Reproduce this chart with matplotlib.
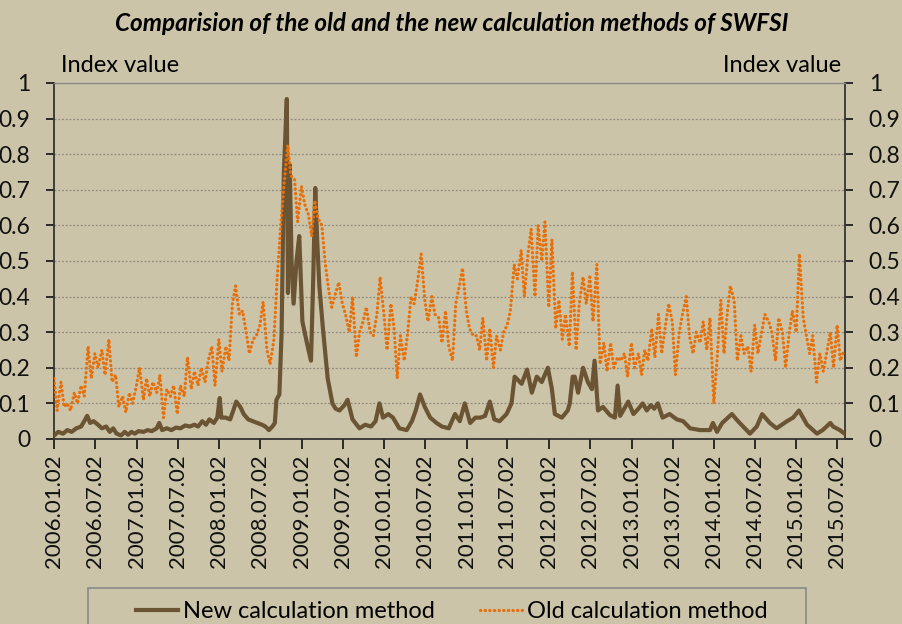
import matplotlib
matplotlib.use("Agg")
import matplotlib.pyplot as plt
import matplotlib.dates as mdates
from matplotlib.patches import Rectangle
import pandas as pd

# new calculation method (irregular dates)
new_dates = [
    "2006-01-02", "2006-01-20", "2006-02-10", "2006-03-01", "2006-03-20", "2006-04-10",
    "2006-05-01", "2006-05-15", "2006-05-28", "2006-06-10", "2006-06-25", "2006-07-15",
    "2006-08-01", "2006-08-20", "2006-09-05", "2006-09-20", "2006-10-05", "2006-10-25",
    "2006-11-10", "2006-11-25", "2006-12-10", "2006-12-25",
    "2007-01-10", "2007-02-01", "2007-02-20", "2007-03-10", "2007-04-01", "2007-04-12",
    "2007-04-25", "2007-05-15", "2007-06-05", "2007-06-25", "2007-07-15", "2007-08-05",
    "2007-08-25", "2007-09-15", "2007-10-01", "2007-10-20", "2007-11-05", "2007-11-20",
    "2007-12-10", "2007-12-25",
    "2008-01-05", "2008-01-12", "2008-02-01", "2008-02-20", "2008-03-05", "2008-03-18",
    "2008-04-05", "2008-04-20", "2008-05-10", "2008-05-30", "2008-06-20", "2008-07-10",
    "2008-07-25", "2008-08-10", "2008-08-25", "2008-09-05", "2008-09-12", "2008-09-25",
    "2008-10-05", "2008-10-15", "2008-10-28", "2008-11-02", "2008-11-10", "2008-11-18",
    "2008-11-27", "2008-12-10", "2008-12-22",
    "2009-01-05", "2009-01-25", "2009-02-12", "2009-02-22", "2009-03-03", "2009-03-12",
    "2009-03-21", "2009-04-06", "2009-04-27", "2009-05-18", "2009-06-01", "2009-06-18",
    "2009-07-10", "2009-07-24", "2009-08-15", "2009-09-15", "2009-10-10", "2009-11-05",
    "2009-11-25", "2009-12-12", "2009-12-28",
    "2010-01-20", "2010-02-10", "2010-03-10", "2010-04-12", "2010-05-05", "2010-05-22",
    "2010-06-10", "2010-07-01", "2010-07-25", "2010-08-22", "2010-09-15", "2010-10-15",
    "2010-11-12", "2010-12-03", "2010-12-25",
    "2011-01-18", "2011-02-10", "2011-03-05", "2011-03-25", "2011-04-15", "2011-05-05",
    "2011-05-28", "2011-06-28", "2011-07-20", "2011-08-03", "2011-09-03", "2011-09-27",
    "2011-10-18", "2011-11-09", "2011-12-01", "2011-12-28",
    "2012-01-15", "2012-01-28", "2012-02-28", "2012-03-25", "2012-04-03", "2012-04-16",
    "2012-04-25", "2012-05-10", "2012-06-01", "2012-06-22", "2012-07-10", "2012-07-22",
    "2012-08-06", "2012-08-28", "2012-09-28", "2012-10-20", "2012-11-01", "2012-11-12",
    "2012-12-18",
    "2013-01-10", "2013-02-01", "2013-02-20", "2013-03-10", "2013-03-28", "2013-04-12",
    "2013-04-28", "2013-05-19", "2013-06-19", "2013-07-21", "2013-08-18", "2013-09-18",
    "2013-11-01", "2013-12-15", "2013-12-28",
    "2014-01-15", "2014-02-07", "2014-03-22", "2014-04-18", "2014-06-10", "2014-07-10",
    "2014-08-03", "2014-09-06", "2014-10-06", "2014-11-21", "2014-12-18",
    "2015-01-13", "2015-02-18", "2015-04-03", "2015-04-28", "2015-06-01", "2015-06-13",
    "2015-07-13", "2015-08-03",
]
new_vals = [
    0.010, 0.020, 0.015, 0.025, 0.020, 0.030,
    0.035, 0.050, 0.065, 0.045, 0.050, 0.040,
    0.030, 0.035, 0.020, 0.030, 0.015, 0.010,
    0.020, 0.012, 0.020, 0.015,
    0.022, 0.020, 0.025, 0.022, 0.030, 0.045,
    0.025, 0.030, 0.025, 0.032, 0.030, 0.038,
    0.035, 0.040, 0.035, 0.050, 0.040, 0.055,
    0.045, 0.060,
    0.115, 0.060, 0.060, 0.055, 0.080, 0.105,
    0.090, 0.070, 0.055, 0.050, 0.045, 0.040,
    0.035, 0.025, 0.035, 0.045, 0.110, 0.125,
    0.300, 0.750, 0.955, 0.410, 0.770, 0.500,
    0.380, 0.500, 0.570,
    0.330, 0.270, 0.220, 0.450, 0.705, 0.550,
    0.430, 0.310, 0.170, 0.100, 0.085, 0.080,
    0.095, 0.110, 0.055, 0.030, 0.040, 0.035,
    0.050, 0.100, 0.060,
    0.070, 0.060, 0.030, 0.025, 0.050, 0.080,
    0.125, 0.090, 0.060, 0.045, 0.035, 0.030,
    0.070, 0.050, 0.100,
    0.045, 0.060, 0.060, 0.065, 0.105, 0.055,
    0.050, 0.070, 0.100, 0.175, 0.155, 0.195,
    0.130, 0.175, 0.160, 0.200,
    0.140, 0.070, 0.060, 0.080, 0.100, 0.175,
    0.175, 0.130, 0.200, 0.160, 0.140, 0.220,
    0.080, 0.090, 0.067, 0.060, 0.150, 0.065,
    0.105,
    0.070, 0.085, 0.100, 0.080, 0.095, 0.085,
    0.100, 0.060, 0.070, 0.055, 0.050, 0.030,
    0.025, 0.025, 0.045,
    0.020, 0.045, 0.070, 0.050, 0.015, 0.035,
    0.070, 0.045, 0.030, 0.050, 0.060,
    0.080, 0.040, 0.015, 0.025, 0.045, 0.035,
    0.025, 0.015,
]

# old calculation method, semi-monthly (1st and 15th of each month)
old_2006 = [0.17, 0.08, 0.16, 0.09, 0.10, 0.08, 0.13, 0.10, 0.15, 0.12, 0.26, 0.17,
            0.24, 0.20, 0.25, 0.18, 0.28, 0.16, 0.18, 0.09, 0.12, 0.075, 0.13, 0.10]
old_2007 = [0.15, 0.20, 0.11, 0.17, 0.12, 0.16, 0.13, 0.18, 0.06, 0.14, 0.12, 0.15,
            0.07, 0.15, 0.12, 0.23, 0.14, 0.19, 0.15, 0.20, 0.16, 0.22, 0.26, 0.15]
old_2008 = [0.28, 0.19, 0.26, 0.22, 0.38, 0.43, 0.35, 0.36, 0.30, 0.24, 0.28, 0.29,
            0.32, 0.385, 0.25, 0.21, 0.28, 0.45, 0.60, 0.71, 0.825, 0.74, 0.73, 0.61]
old_2009 = [0.71, 0.66, 0.63, 0.57, 0.67, 0.62, 0.60, 0.50, 0.42, 0.37, 0.41, 0.44,
            0.38, 0.35, 0.30, 0.40, 0.23, 0.30, 0.33, 0.37, 0.30, 0.29, 0.35, 0.455]
old_2010 = [0.35, 0.25, 0.38, 0.31, 0.17, 0.29, 0.22, 0.29, 0.40, 0.38, 0.45, 0.52,
            0.39, 0.33, 0.40, 0.35, 0.34, 0.27, 0.36, 0.26, 0.22, 0.38, 0.43, 0.48]
old_2011 = [0.36, 0.31, 0.29, 0.29, 0.25, 0.34, 0.22, 0.31, 0.20, 0.29, 0.25, 0.30,
            0.32, 0.36, 0.49, 0.45, 0.53, 0.40, 0.52, 0.59, 0.40, 0.60, 0.50, 0.61]
old_2012 = [0.37, 0.56, 0.31, 0.39, 0.28, 0.35, 0.26, 0.47, 0.25, 0.38, 0.455, 0.38,
            0.455, 0.33, 0.49, 0.21, 0.27, 0.19, 0.27, 0.20, 0.23, 0.22, 0.24, 0.175]
old_2013 = [0.27, 0.20, 0.24, 0.18, 0.25, 0.22, 0.31, 0.23, 0.35, 0.24, 0.32, 0.38,
            0.33, 0.18, 0.30, 0.35, 0.40, 0.29, 0.24, 0.30, 0.27, 0.33, 0.25, 0.34]
old_2014 = [0.10, 0.22, 0.39, 0.24, 0.35, 0.43, 0.39, 0.22, 0.29, 0.24, 0.26, 0.19,
            0.32, 0.24, 0.30, 0.35, 0.33, 0.30, 0.22, 0.34, 0.30, 0.20, 0.30, 0.36]
old_2015 = [0.30, 0.52, 0.34, 0.29, 0.24, 0.29, 0.16, 0.24, 0.19, 0.24, 0.30, 0.20,
            0.32, 0.22, 0.25]

old_vals = (old_2006 + old_2007 + old_2008 + old_2009 + old_2010 + old_2011
            + old_2012 + old_2013 + old_2014 + old_2015)
old_dates = pd.date_range("2006-01-01", periods=len(old_vals), freq="SMS")

tick_dates = pd.date_range("2006-01-01", "2015-07-01", freq="6MS") + pd.Timedelta(days=1)

bg = "#CCC4A8"
brown = "#6B5434"
orange = "#E8700A"

plt.rcParams["font.family"] = ["Lato", "DejaVu Sans"]

fig = plt.figure(figsize=(9.03, 6.24), dpi=100, facecolor=bg)
ax = fig.add_axes([0.0598, 0.2965, 0.876, 0.5705])
ax.set_facecolor(bg)

ax.plot(pd.to_datetime(new_dates), new_vals, color=brown, lw=3.0,
        solid_joinstyle="round", label="New calculation method", zorder=3)
ax.plot(old_dates, old_vals, color=orange, lw=2.3, linestyle=(0, (0.1, 1.35)),
        dash_capstyle="round", label="Old calculation method", zorder=4)

ax.set_ylim(0, 1)
ax.set_yticks([i / 10 for i in range(11)])
ax.set_yticklabels(["0"] + [f"0.{i}" for i in range(1, 10)] + ["1"])
ax.set_xlim(pd.Timestamp("2006-01-01"), pd.Timestamp("2015-08-05"))
ax.set_xticks(tick_dates)
ax.xaxis.set_major_formatter(mdates.DateFormatter("%Y.%m.%d"))

ax.grid(axis="y", linestyle=(0, (1.5, 1.5)), color="#8E8A7E", lw=0.9)
ax.set_axisbelow(True)

ax.tick_params(axis="y", which="both", left=True, right=True, labelleft=True,
               labelright=True, direction="out", length=6, width=1.2,
               labelsize=16.5, pad=11, colors="#111111")
ax.tick_params(axis="x", direction="out", length=7, width=1.2,
               labelsize=16, pad=4, labelrotation=90, colors="#111111")

for side in ["left", "right", "bottom"]:
    ax.spines[side].set_color("#333333")
    ax.spines[side].set_linewidth(1.3)
ax.spines["top"].set_color("#8A8A8A")
ax.spines["top"].set_linewidth(1.0)

fig.text(0.5, 0.962, "Comparision of the old and the new calculation methods of SWFSI",
         ha="center", va="center", fontsize=17.5, fontweight="bold", style="italic")
fig.text(0.067, 0.895, "Index value", ha="left", va="center", fontsize=17)
fig.text(0.931, 0.895, "Index value", ha="right", va="center", fontsize=17)

# legend box (frame drawn separately, it runs off the bottom like the original)
fig.patches.append(Rectangle((88 / 903, -0.05), (806 - 88) / 903, 0.05 + (624 - 588) / 624,
                             transform=fig.transFigure, facecolor="none",
                             edgecolor="#8A8A8A", lw=1.2, zorder=1))
leg = fig.legend(loc="upper left", bbox_to_anchor=(124 / 903, 1 - 589 / 624),
                 ncol=2, fontsize=17, frameon=False, borderpad=0,
                 handlelength=1.8, columnspacing=1.9, handletextpad=0.2)

fig.savefig("out.png", dpi=100, facecolor=bg)
